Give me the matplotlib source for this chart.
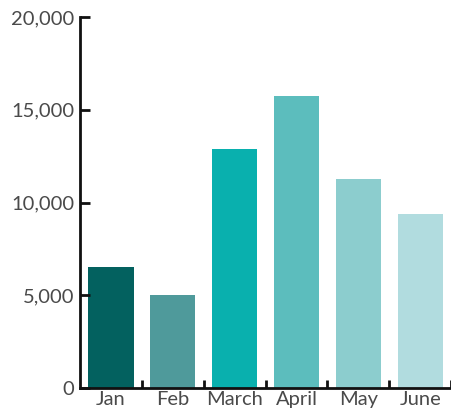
import numpy as np
import matplotlib.pyplot as plt
from matplotlib.ticker import FuncFormatter, FixedLocator

# Datos
meses = ["Jan", "Feb", "March", "April", "May", "June"]
valores = [6500, 5000, 12900, 15750, 11250, 9400]
colores = ["#03615f", "#4f9a9b", "#09b0ae", "#5cbdbd", "#8ccdce", "#b1dcdf"]

plt.rcParams["font.family"] = ["Lato", "DejaVu Sans"]

fig = plt.figure(figsize=(4.52, 4.15), dpi=100)
ax = fig.add_axes([0.177, 0.065, 0.821, 0.894])

x = np.arange(len(meses))
ax.bar(x, valores, width=0.73, color=colores)

ax.set_xlim(-0.5, len(meses) - 0.5)
ax.set_ylim(0, 20000)
ax.set_yticks([0, 5000, 10000, 15000, 20000])
ax.yaxis.set_major_formatter(FuncFormatter(lambda v, p: f"{int(v):,}"))

ax.set_xticks(x)
ax.set_xticklabels(meses)
ax.xaxis.set_minor_locator(FixedLocator(np.arange(0.5, len(meses), 1.0)))

for lado in ["top", "right"]:
    ax.spines[lado].set_visible(False)
for lado in ["left", "bottom"]:
    ax.spines[lado].set_linewidth(2)
    ax.spines[lado].set_color("#111111")

ax.tick_params(axis="y", direction="in", length=7, width=2, pad=4,
               labelsize=14.5, labelcolor="#4a4a4a", color="#111111")
ax.tick_params(axis="x", which="major", length=0, pad=2,
               labelsize=14.5, labelcolor="#4a4a4a")
ax.tick_params(axis="x", which="minor", direction="in", length=6, width=2,
               color="#111111")

fig.savefig("out.png", dpi=100)
